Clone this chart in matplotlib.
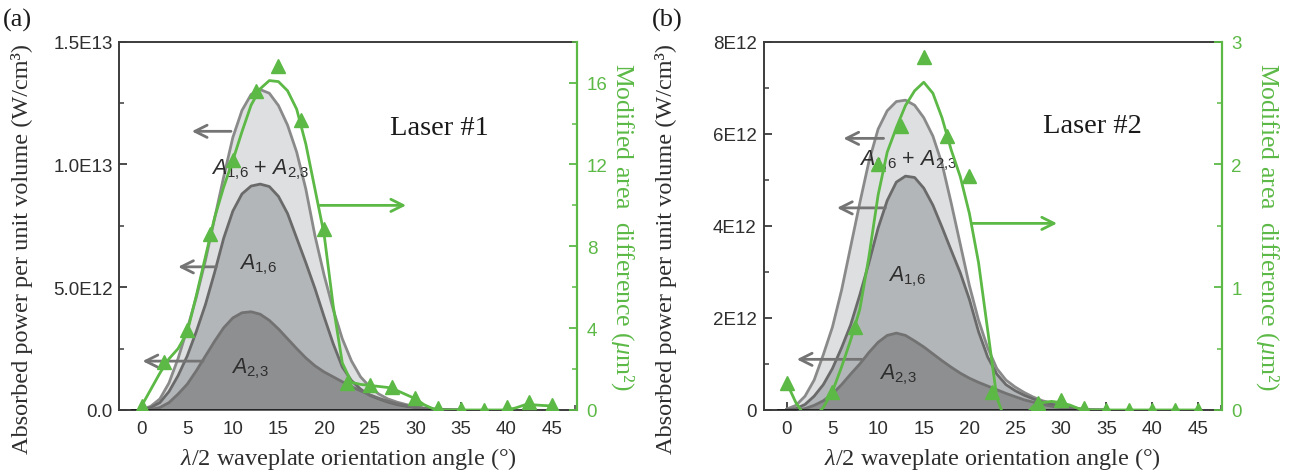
import numpy as np
import matplotlib
matplotlib.use("Agg")
import matplotlib.pyplot as plt
from matplotlib.ticker import MultipleLocator, FixedLocator

plt.rcParams['mathtext.fontset'] = 'custom'
plt.rcParams['mathtext.it'] = 'Liberation Serif:italic'
plt.rcParams['mathtext.rm'] = 'Liberation Sans'
plt.rcParams['mathtext.sf'] = 'Liberation Sans:italic'

# ---------------- data ----------------
angle_curve = list(range(0, 36))          # degrees, for absorbed-power curves
angle_fit = list(range(0, 46))            # degrees, for green fitted line
angle_marker = [0, 2.5, 5, 7.5, 10, 12.5, 15, 17.5, 20, 22.5, 25, 27.5, 30,
                32.5, 35, 37.5, 40, 42.5, 45]

# Laser #1 (units of 1E12 W/cm^3)
a_total = [0.02, 0.15, 0.45, 1.1, 2.1, 3.3, 4.6, 6.1, 7.8, 9.5, 11.1, 12.2, 12.85,
           13.05, 12.9, 12.4, 11.6, 10.5, 9.0, 7.1, 5.5, 4.1, 2.9, 2.0, 1.35,
           0.95, 0.65, 0.45, 0.32, 0.22, 0.14, 0.08, 0.04, 0.02, 0.01, 0.0]
a_a16 = [0.0, 0.1, 0.3, 0.75, 1.4, 2.2, 3.2, 4.3, 5.6, 7.0, 8.1, 8.8, 9.12,
         9.2, 9.1, 8.7, 8.0, 7.0, 6.0, 4.95, 3.8, 2.7, 1.75, 1.2, 0.85, 0.6,
         0.45, 0.32, 0.22, 0.15, 0.1, 0.06, 0.03, 0.01, 0.0, 0.0]
a_a23 = [0.0, 0.02, 0.1, 0.3, 0.65, 1.05, 1.6, 2.2, 2.8, 3.35, 3.75, 3.96, 4.0,
         3.9, 3.65, 3.3, 2.9, 2.5, 2.12, 1.8, 1.55, 1.35, 1.15, 0.95, 0.78, 0.62,
         0.48, 0.36, 0.26, 0.18, 0.11, 0.06, 0.03, 0.01, 0.0, 0.0]
a_marker = [0.2, 2.33, 3.9, 8.6, 12.2, 15.6, 16.8, 14.15, 8.85, 1.3, 1.22, 1.14,
            0.59, 0.1, 0.05, 0.0, 0.13, 0.38, 0.25]
a_fit = [0.2, 1.0, 1.8, 2.5, 3.0, 3.8, 5.6, 7.5, 9.4, 10.9, 12.2, 13.6, 14.9,
         15.7, 16.1, 16.05, 15.6, 14.7, 13.0, 10.8, 8.6, 5.1, 2.3, 1.35, 1.25,
         1.2, 1.15, 1.1, 0.95, 0.75, 0.55, 0.25, 0.05, 0.0, 0.0, 0.0, 0.0, 0.0,
         0.0, 0.0, 0.0, 0.1, 0.25, 0.25, 0.22, 0.2]

# Laser #2 (units of 1E12 W/cm^3)
b_total = [0.02, 0.1, 0.3, 0.65, 1.2, 1.8, 2.6, 3.55, 4.5, 5.4, 6.1, 6.5, 6.7,
           6.73, 6.62, 6.35, 5.95, 5.35, 4.5, 3.6, 2.7, 1.95, 1.35, 0.9, 0.65, 0.5,
           0.38, 0.28, 0.2, 0.15, 0.1, 0.06, 0.03, 0.01, 0.0, 0.0]
b_a16 = [0.0, 0.03, 0.12, 0.3, 0.55, 0.9, 1.35, 1.85, 2.5, 3.2, 3.95, 4.55, 4.95,
         5.08, 5.05, 4.82, 4.45, 3.97, 3.47, 2.98, 2.4, 1.7, 1.15, 0.78, 0.55,
         0.42, 0.32, 0.24, 0.17, 0.12, 0.08, 0.04, 0.02, 0.0, 0.0, 0.0]
b_a23 = [0.0, 0.0, 0.03, 0.1, 0.2, 0.35, 0.55, 0.78, 1.0, 1.25, 1.47, 1.62, 1.67,
         1.62, 1.5, 1.37, 1.22, 1.07, 0.93, 0.8, 0.69, 0.6, 0.52, 0.44, 0.36,
         0.29, 0.22, 0.17, 0.12, 0.08, 0.05, 0.03, 0.01, 0.0, 0.0, 0.0]
b_marker = [0.22, -0.1, 0.15, 0.68, 2.0, 2.31, 2.875, 2.23, 1.91, 0.15, -0.1,
            0.055, 0.08, 0.02, 0.0, 0.0, 0.0, 0.0, 0.0]
b_fit = [0.22, 0.06, -0.05, -0.06, 0.02, 0.15, 0.35, 0.57, 0.82, 1.25, 1.75, 2.1,
         2.3, 2.48, 2.6, 2.67, 2.58, 2.38, 2.12, 1.9, 1.6, 1.2, 0.65, 0.1, -0.1,
         -0.15, -0.05, 0.03, 0.06, 0.07, 0.06, 0.04, 0.01, 0.0, 0.0, 0.0, 0.0,
         0.0, 0.0, 0.0, 0.0, 0.0, 0.0, 0.0, 0.0, 0.0]

x_ticks = [0, 5, 10, 15, 20, 25, 30, 35, 40, 45]
a_left_ticks = [0, 5e12, 1e13, 1.5e13]
a_left_labels = ["0.0", "5.0E12", "1.0E13", "1.5E13"]
b_left_ticks = [0, 2e12, 4e12, 6e12, 8e12]
b_left_labels = ["0", "2E12", "4E12", "6E12", "8E12"]
a_right_ticks = [0, 4, 8, 12, 16]
b_right_ticks = [0, 1, 2, 3]

GREEN = "#5cb946"
TXT = "#2e2e2e"
SPINE = "#3c3c3c"
FILL_TOT, FILL_16, FILL_23 = "#dedfe0", "#b3b6b8", "#8e8f90"
EDGE_TOT, EDGE_16, EDGE_23 = "#8a8a8a", "#6a6a6a", "#727272"
SERIF = "Liberation Serif"
SANS = "Liberation Sans"

fig = plt.figure(figsize=(12.9, 4.77), dpi=100)


def panel(rect, xlim, total, a16, a23, marker, fit, ymax_left, ymax_right,
          lticks, llabels, lminor, rticks, rminor, arrows, garrow, labels,
          laser_text, laser_pos, plabel, plabel_x):
    ax = fig.add_axes(rect)
    xs = np.array(angle_curve)
    sc = 1e12
    ax.fill_between(xs, np.array(total) * sc, color=FILL_TOT, lw=0, zorder=1)
    ax.fill_between(xs, np.array(a16) * sc, color=FILL_16, lw=0, zorder=2)
    ax.fill_between(xs, np.array(a23) * sc, color=FILL_23, lw=0, zorder=3)
    ax.plot(xs, np.array(total) * sc, color=EDGE_TOT, lw=2.0, zorder=4)
    ax.plot(xs, np.array(a16) * sc, color=EDGE_16, lw=2.0, zorder=4)
    ax.plot(xs, np.array(a23) * sc, color=EDGE_23, lw=2.0, zorder=4)
    ax.plot([-1, 35], [0, 0], color="#1a1a1a", lw=2.0, zorder=5)
    ax.set_xlim(*xlim)
    ax.set_ylim(0, ymax_left)
    ax.xaxis.set_major_locator(FixedLocator(x_ticks))
    ax.xaxis.set_minor_locator(MultipleLocator(2.5))
    ax.yaxis.set_major_locator(FixedLocator(lticks))
    ax.set_yticklabels(llabels)
    ax.yaxis.set_minor_locator(MultipleLocator(lminor))
    ax.tick_params(which='both', direction='in', colors=SPINE, labelcolor=TXT,
                   labelsize=13.5)
    ax.tick_params(which='major', length=6, width=1.3)
    ax.tick_params(which='minor', length=3.5, width=1.1)
    ax.tick_params(axis='y', pad=5)
    ax.tick_params(axis='x', pad=7)
    for lab in ax.get_xticklabels() + ax.get_yticklabels():
        lab.set_fontfamily(SANS)
    for s in ['left', 'top', 'bottom']:
        ax.spines[s].set_color(SPINE)
        ax.spines[s].set_linewidth(1.4)
    ax.spines['right'].set_visible(False)
    ax.set_xlabel(r"$\lambda$/2 waveplate orientation angle (°)", fontsize=17.5,
                  fontfamily=SERIF, color=TXT)
    ax.xaxis.set_label_coords(0.5, -0.095)
    ax.set_ylabel("Absorbed power per unit volume (W/cm³)", fontsize=17.5,
                  fontfamily=SERIF, color=TXT)
    ax.yaxis.set_label_coords(-0.19, 0.44)

    for (x0, x1, yv) in arrows:
        ax.annotate("", xy=(x1, yv), xytext=(x0, yv),
                    arrowprops=dict(arrowstyle='->', color="#747474", lw=2.0,
                                    mutation_scale=22, shrinkA=0, shrinkB=0),
                    zorder=6)
    for (tx, tyv, s) in labels:
        ax.text(tx, tyv, s, fontsize=15.5, fontfamily=SANS, color=TXT,
                ha='center', va='center', zorder=7)
    ax.text(laser_pos[0], laser_pos[1], laser_text, fontsize=20.5,
            fontfamily=SERIF, color="#1a1a1a", ha='left', va='center', zorder=7)

    ax2 = ax.twinx()
    ax2.set_xlim(*xlim)
    ax2.set_ylim(0, ymax_right)
    ax2.plot(angle_fit, fit, color=GREEN, lw=2.0, zorder=3)
    ax2.plot(angle_marker, marker, ls='none', marker='^', ms=10,
             color=GREEN, mec=GREEN, zorder=4)
    x0, x1, yv = garrow
    ax2.annotate("", xy=(x1, yv), xytext=(x0, yv),
                 arrowprops=dict(arrowstyle='->', color=GREEN, lw=2.0,
                                 mutation_scale=22, shrinkA=0, shrinkB=0))
    ax2.yaxis.set_major_locator(FixedLocator(rticks))
    ax2.yaxis.set_minor_locator(MultipleLocator(rminor))
    ax2.tick_params(which='both', direction='in', colors=GREEN,
                    labelcolor=GREEN, labelsize=13.5, pad=7)
    ax2.tick_params(which='major', length=6, width=1.3)
    ax2.tick_params(which='minor', length=3.5, width=1.1)
    for lab in ax2.get_yticklabels():
        lab.set_fontfamily(SANS)
    for s in ['left', 'top', 'bottom']:
        ax2.spines[s].set_visible(False)
    ax2.spines['right'].set_color(GREEN)
    ax2.spines['right'].set_linewidth(1.6)
    ax2.set_ylabel(r"Modified area  difference ($\mu$m²)", fontsize=18.5,
                   fontfamily=SERIF, color=GREEN, rotation=270,
                   va='bottom', ha='center')
    ax2.yaxis.set_label_coords(1.07, 0.5)
    fig.text(plabel_x, 0.957, plabel, fontsize=19, fontfamily=SERIF,
             color="#1a1a1a", ha='left', va='center')
    return ax, ax2


lab_a = [(13.0, 9.85e12, r"$\mathsf{A}_{\mathrm{1{,}6}}$ + $\mathsf{A}_{\mathrm{2{,}3}}$"),
         (12.8, 6.0e12, r"$\mathsf{A}_{\mathrm{1{,}6}}$"),
         (11.9, 1.75e12, r"$\mathsf{A}_{\mathrm{2{,}3}}$")]
lab_b = [(13.3, 5.45e12, r"$\mathsf{A}_{\mathrm{1{,}6}}$ + $\mathsf{A}_{\mathrm{2{,}3}}$"),
         (13.2, 2.94e12, r"$\mathsf{A}_{\mathrm{1{,}6}}$"),
         (12.2, 0.8e12, r"$\mathsf{A}_{\mathrm{2{,}3}}$")]

panel([0.0926, 0.1384, 0.3547, 0.7721], (-2.43, 47.73), a_total, a_a16, a_a23,
      a_marker, a_fit, 1.5e13, 18, a_left_ticks, a_left_labels, 2.5e12,
      a_right_ticks, 2,
      [(9.8, 5.5, 11.35e12), (8.2, 4.0, 5.83e12), (6.75, 0.1, 1.99e12)],
      (19.55, 29.0, 10.0), lab_a, "Laser #1", (27.2, 11.5e12), "(a)", 0.002)

panel([0.5919, 0.1384, 0.3550, 0.7721], (-2.54, 47.6), b_total, b_a16, b_a23,
      b_marker, b_fit, 8e12, 3, b_left_ticks, b_left_labels, 1e12,
      b_right_ticks, 0.5,
      [(10.6, 6.2, 5.9e12), (10.8, 5.5, 4.39e12), (8.2, 1.1, 1.1e12)],
      (20.3, 29.6, 1.52), lab_b, "Laser #2", (28.1, 6.17e12), "(b)", 0.5055)

fig.savefig("out.png", dpi=100)
